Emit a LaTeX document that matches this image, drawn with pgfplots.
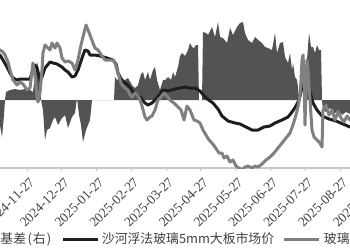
\documentclass[border=0pt]{standalone}
\usepackage{fontspec}
\setmainfont{Liberation Serif}
\newfontfamily\cjk{Noto Sans CJK SC}
\usepackage{pgfplots}
\pgfplotsset{compat=1.18}
\definecolor{basisc}{HTML}{535353}
\definecolor{spotc}{HTML}{1E1E1E}
\definecolor{futc}{HTML}{808080}
\definecolor{axc}{HTML}{C8C8C8}
\definecolor{txt}{HTML}{404040}
\begin{document}
\begin{tikzpicture}
\useasboundingbox (0,0) rectangle (350pt,250pt);
\begin{scope}
\clip (0,0) rectangle (350pt,250pt);
\begin{axis}[
  at={(-20pt,82pt)}, anchor=south west,
  scale only axis, width=400pt, height=188pt,
  xmin=-20, xmax=380, ymin=-204, ymax=360,
  hide axis,
]
\addplot[fill=basisc, draw=none] coordinates {
(-15,-60) (0,-75) (2,-111) (4,-45) (5,0) (6,24) (10,30) (15,33) (20,30) (25,33) (30,30) (33,24) (35,75) (37,114) (39,90) (41,0) (43,-30) (45,-120) (47,-90) (50,-84) (53,-60) (55,-51) (58,-75) (62,-54) (65,-45) (68,-84) (72,-51) (75,-39) (77,6) (79,-45) (81,-75) (83,-126) (86,-90) (88,-75) (90,-60) (92,0) (114,0) (115,69) (117,60) (120,66) (125,60) (128,66) (132,45) (135,36) (138,45) (141,78) (143,84) (145,60) (148,84) (150,60) (153,90) (155,99) (157,60) (160,30) (163,60) (165,60) (168,69) (171,60) (173,84) (175,69) (178,99) (180,132) (182,141) (185,132) (188,150) (190,171) (192,159) (194,156) (196,165) (198,165) (199,0) (202,0) (203,204) (206,201) (208,195) (212,219) (215,189) (218,234) (220,189) (223,186) (227,171) (230,216) (233,195) (237,219) (240,231) (243,234) (245,201) (248,180) (252,171) (255,189) (258,180) (262,171) (265,159) (268,156) (272,150) (275,201) (277,141) (280,171) (283,174) (285,129) (288,111) (290,141) (292,90) (293,111) (295,69) (297,60) (298,39) (299,0) (306,0) (307,120) (309,201) (311,159) (313,159) (315,141) (317,165) (319,150) (321,150) (322,0) (323,-30) (326,-36) (330,-24) (334,-42) (338,-30) (342,-45) (346,-36) (350,-42) (360,-40)
} \closedcycle;
\end{axis}
\begin{axis}[
  at={(-20pt,82pt)}, anchor=south west,
  scale only axis, width=400pt, height=188pt,
  xmin=-20, xmax=380, ymin=1000, ymax=1564,
  axis x line*=bottom, axis y line=none, ytick=\empty,
  x axis line style={color=axc, line width=1.2pt},
  xtick={-7.78,27,61.78,96.56,131.34,166.12,200.9,235.68,270.46,305.24,340.02,374.8},
  xticklabels={2024-10-27,2024-11-27,2024-12-27,2025-01-27,2025-02-27,2025-03-27,2025-04-27,2025-05-27,2025-06-27,2025-07-27,2025-08-27,2025-09-27},
  tick align=outside, major tick length=3pt,
  xtick style={color=axc, line width=1pt},
  xticklabel style={font=\fontsize{13.5}{13.5}\selectfont, text=txt, rotate=45, anchor=east, yshift=-10pt, xshift=0.5pt},
  legend columns=-1,
  legend cell align=left,
  legend image code/.code={\draw[#1] (0pt,0pt) -- (35pt,0pt);},
  legend style={at={(-0.04375,-0.3777)}, anchor=west, draw=none, fill=none,
    inner sep=0pt, outer sep=0pt, column sep=0pt,
    font=\cjk\fontsize{12.85}{13}\selectfont, text=txt,
    nodes={inner sep=0pt, outer sep=0pt}},
]
\addlegendimage{legend image code/.code={\fill[basisc] (0pt,-5pt) rectangle (35pt,5pt);}}
\addlegendimage{spotc, line width=3pt}
\addlegendimage{futc, line width=3pt}
\legend{\makebox[64pt][l]{\kern2.5pt 基差\kern1.5pt(\kern1pt右\kern1pt)},\makebox[183pt][l]{\kern2pt 沙河浮法玻璃5mm大板市场价},\makebox[80pt][l]{\kern3pt 玻璃期货主力合约收盘价}}
\addplot[spotc, line width=3pt, line join=round, forget plot] coordinates {
(-15,1354) (0,1339) (3,1324) (7,1303) (10,1285) (13,1270) (17,1264) (20,1267) (25,1267) (30,1267) (32,1285) (35,1309) (37,1300) (40,1264) (42,1273) (45,1300) (50,1318) (53,1315) (57,1312) (62,1303) (65,1294) (68,1288) (72,1273) (75,1276) (78,1294) (82,1330) (85,1354) (88,1351) (90,1339) (95,1339) (100,1336) (107,1330) (113,1324) (116,1312) (118,1285) (120,1273) (123,1258) (127,1252) (130,1240) (135,1222) (140,1213) (145,1195) (148,1189) (152,1195) (157,1210) (163,1234) (168,1231) (175,1237) (180,1240) (185,1243) (190,1240) (195,1240) (200,1231) (206,1210) (213,1195) (218,1177) (222,1156) (228,1141) (235,1135) (240,1132) (246,1123) (252,1114) (258,1114) (264,1123) (270,1126) (275,1135) (282,1144) (288,1153) (292,1168) (296,1186) (299,1204) (301,1228) (303,1258) (306,1270) (308,1264) (310,1228) (313,1195) (317,1174) (322,1156) (329,1147) (336,1141) (343,1132) (350,1123) (360,1120)
};
\addplot[futc, line width=3pt, line join=round, forget plot] coordinates {
(-15,1369) (0,1354) (3,1348) (5,1339) (8,1318) (10,1294) (13,1264) (17,1249) (20,1258) (23,1252) (27,1234) (30,1240) (33,1315) (35,1279) (37,1213) (38,1198) (40,1225) (42,1294) (43,1345) (45,1369) (48,1360) (50,1354) (52,1375) (55,1360) (57,1375) (60,1360) (62,1330) (65,1318) (68,1321) (72,1315) (75,1294) (78,1324) (81,1369) (84,1405) (86,1429) (88,1414) (90,1399) (93,1375) (95,1360) (98,1354) (100,1345) (105,1324) (110,1324) (113,1324) (115,1315) (117,1294) (120,1264) (122,1249) (125,1240) (128,1234) (130,1219) (132,1213) (135,1225) (138,1216) (140,1204) (142,1186) (145,1153) (147,1144) (150,1153) (152,1156) (155,1174) (158,1204) (161,1213) (164,1225) (168,1213) (170,1204) (175,1192) (178,1183) (181,1174) (184,1144) (187,1186) (190,1174) (194,1144) (197,1141) (200,1135) (203,1114) (206,1099) (209,1084) (212,1075) (215,1063) (217,1054) (219,1045) (222,1045) (224,1030) (227,1036) (230,1018) (233,1024) (236,1006) (239,1000) (242,994) (245,1003) (248,1006) (252,1000) (255,1006) (258,1003) (262,1012) (266,1024) (270,1033) (274,1045) (278,1060) (282,1075) (286,1090) (290,1105) (293,1129) (296,1159) (298,1183) (300,1219) (301,1264) (302,1324) (303,1339) (304,1279) (305,1129) (306,1234) (307,1324) (308,1294) (310,1204) (312,1114) (314,1093) (317,1084) (320,1075) (322,1063) (323,1174) (326,1189) (329,1159) (332,1174) (335,1144) (338,1168) (341,1150) (344,1138) (347,1156) (350,1144) (360,1150)
};
\end{axis}
\end{scope}
\end{tikzpicture}
\end{document}
